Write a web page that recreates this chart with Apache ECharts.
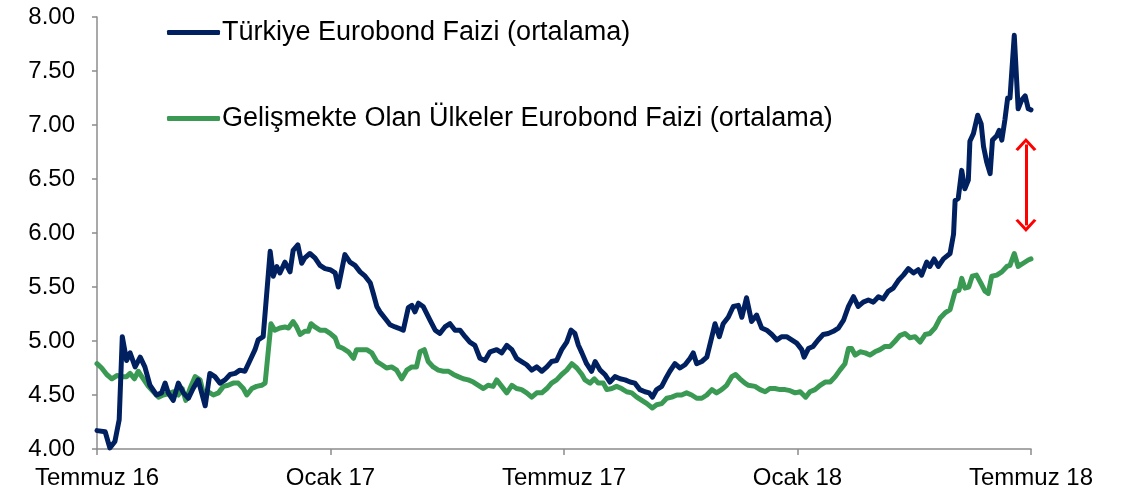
<!DOCTYPE html>
<html>
<head>
<meta charset="utf-8">
<title>Eurobond Faizleri</title>
<script type="text/javascript" src="https://cdn.jsdelivr.net/npm/echarts@6/dist/echarts.min.js"></script>
<style type="text/css">
html, body {margin: 0; padding: 0; background: #fff;}
#main {width: 1130px; height: 496px;}
</style>
</head>
<body>
<div id="main"></div>
<script type="text/javascript">
// x = ay (Temmuz 16 = 0), y = faiz (%)
var xTickLabels = ['Temmuz 16', 'Ocak 17', 'Temmuz 17', 'Ocak 18', 'Temmuz 18'];
var seriesNames = ['Türkiye Eurobond Faizi (ortalama)', 'Gelişmekte Olan Ülkeler Eurobond Faizi (ortalama)'];

var trMonths = [0.00,0.21,0.33,0.46,0.57,0.65,0.76,0.85,0.98,1.11,1.23,1.36,1.53,1.66,1.75,1.83,1.96,2.09,2.22,2.35,
    2.47,2.60,2.69,2.78,2.90,3.03,3.16,3.29,3.42,3.55,3.67,3.80,3.93,4.06,4.14,4.27,4.45,4.53,4.62,4.70,
    4.83,4.96,5.04,5.16,5.26,5.34,5.47,5.60,5.73,5.86,5.99,6.12,6.20,6.29,6.37,6.50,6.63,6.76,6.89,7.02,
    7.10,7.19,7.27,7.40,7.53,7.66,7.74,7.87,8.00,8.09,8.17,8.26,8.38,8.56,8.69,8.81,8.94,9.07,9.20,9.33,
    9.46,9.58,9.71,9.84,9.97,10.10,10.27,10.40,10.53,10.66,10.78,10.91,11.04,11.17,11.30,11.43,11.56,11.68,11.81,11.94,
    12.07,12.18,12.28,12.37,12.46,12.58,12.71,12.80,12.93,13.05,13.18,13.31,13.44,13.57,13.70,13.82,13.95,14.08,14.19,14.27,
    14.38,14.51,14.61,14.72,14.85,14.98,15.11,15.24,15.32,15.41,15.54,15.67,15.80,15.88,15.99,16.09,16.22,16.35,16.48,16.57,
    16.69,16.82,16.95,17.08,17.21,17.34,17.47,17.59,17.72,17.85,17.98,18.11,18.17,18.28,18.40,18.53,18.66,18.79,18.92,19.05,
    19.18,19.31,19.44,19.56,19.69,19.82,19.95,20.08,20.20,20.33,20.46,20.59,20.72,20.85,20.98,21.10,21.19,21.32,21.40,21.51,
    21.62,21.75,21.92,22.01,22.05,22.13,22.22,22.30,22.39,22.43,22.52,22.63,22.72,22.78,22.86,22.95,23.01,23.12,23.18,23.25,
    23.33,23.40,23.46,23.57,23.67,23.76,23.85,23.93,24.00];
var trYields = [4.17,4.16,4.01,4.07,4.27,5.04,4.82,4.89,4.76,4.85,4.76,4.59,4.50,4.52,4.61,4.52,4.45,4.61,4.52,4.47,
    4.56,4.64,4.52,4.40,4.70,4.67,4.61,4.64,4.69,4.70,4.73,4.72,4.82,4.92,5.01,5.04,5.83,5.60,5.69,5.63,
    5.73,5.64,5.84,5.89,5.72,5.77,5.81,5.77,5.70,5.67,5.66,5.63,5.50,5.66,5.80,5.73,5.70,5.64,5.60,5.54,
    5.44,5.32,5.27,5.21,5.15,5.13,5.12,5.10,5.31,5.33,5.27,5.35,5.32,5.19,5.10,5.07,5.13,5.16,5.10,5.10,
    5.04,4.99,4.96,4.84,4.82,4.90,4.92,4.89,4.96,4.92,4.84,4.81,4.78,4.73,4.76,4.72,4.76,4.81,4.82,4.92,
    4.99,5.10,5.07,4.96,4.89,4.79,4.72,4.81,4.73,4.69,4.62,4.67,4.65,4.64,4.62,4.61,4.55,4.53,4.52,4.48,
    4.55,4.58,4.65,4.72,4.79,4.75,4.78,4.84,4.89,4.79,4.81,4.85,5.04,5.16,5.04,5.16,5.22,5.32,5.33,5.22,
    5.40,5.18,5.24,5.12,5.10,5.06,5.01,5.04,5.04,5.01,4.98,4.92,4.85,4.93,4.95,5.01,5.06,5.07,5.09,5.12,
    5.19,5.32,5.41,5.32,5.36,5.38,5.36,5.41,5.39,5.46,5.49,5.56,5.61,5.67,5.63,5.66,5.61,5.73,5.69,5.76,
    5.69,5.76,5.81,5.99,6.30,6.32,6.58,6.41,6.49,6.85,6.92,7.09,7.01,6.80,6.66,6.55,6.86,6.90,6.95,6.86,
    7.05,7.25,7.25,7.83,7.15,7.23,7.27,7.15,7.14];

var emMonths = [0.00,0.12,0.25,0.38,0.51,0.63,0.76,0.85,0.96,1.06,1.19,1.32,1.45,1.58,1.70,1.83,1.96,2.09,2.19,2.28,
    2.39,2.52,2.65,2.73,2.86,2.99,3.12,3.25,3.37,3.50,3.63,3.76,3.85,3.98,4.10,4.23,4.32,4.47,4.57,4.70,
    4.83,4.92,5.04,5.13,5.22,5.34,5.43,5.50,5.60,5.73,5.86,5.99,6.12,6.20,6.33,6.46,6.59,6.67,6.80,6.93,
    7.06,7.19,7.32,7.44,7.57,7.70,7.83,7.96,8.09,8.21,8.30,8.41,8.51,8.64,8.77,8.90,9.03,9.16,9.28,9.41,
    9.54,9.67,9.80,9.93,10.05,10.18,10.27,10.40,10.53,10.66,10.78,10.91,11.04,11.17,11.30,11.43,11.56,11.68,11.81,11.94,
    12.07,12.20,12.33,12.46,12.54,12.67,12.78,12.88,13.01,13.10,13.23,13.35,13.48,13.61,13.74,13.87,14.00,14.13,14.27,14.38,
    14.51,14.64,14.77,14.90,15.02,15.15,15.28,15.41,15.54,15.67,15.80,15.92,16.05,16.18,16.31,16.41,16.52,16.65,16.74,16.91,
    17.04,17.17,17.29,17.42,17.55,17.68,17.81,17.94,18.07,18.21,18.32,18.45,18.58,18.71,18.84,18.97,19.09,19.22,19.31,19.39,
    19.48,19.61,19.74,19.86,19.99,20.12,20.25,20.38,20.51,20.63,20.76,20.89,21.02,21.15,21.28,21.40,21.53,21.66,21.79,21.92,
    22.05,22.15,22.22,22.30,22.40,22.49,22.60,22.72,22.82,22.90,22.99,23.12,23.25,23.38,23.46,23.57,23.67,23.80,23.93,24.00];
var emYields = [4.79,4.75,4.69,4.65,4.68,4.67,4.67,4.70,4.65,4.72,4.65,4.58,4.53,4.48,4.50,4.51,4.53,4.50,4.56,4.45,
    4.56,4.67,4.64,4.52,4.53,4.50,4.52,4.58,4.59,4.61,4.61,4.56,4.50,4.56,4.58,4.59,4.61,5.16,5.10,5.12,
    5.13,5.12,5.18,5.13,5.06,5.09,5.09,5.16,5.13,5.10,5.10,5.07,5.03,4.95,4.93,4.90,4.84,4.92,4.92,4.92,
    4.89,4.81,4.78,4.75,4.76,4.73,4.65,4.73,4.76,4.76,4.90,4.92,4.81,4.76,4.73,4.72,4.72,4.69,4.67,4.65,
    4.64,4.62,4.59,4.56,4.59,4.58,4.64,4.58,4.52,4.59,4.56,4.55,4.52,4.48,4.52,4.52,4.56,4.61,4.64,4.69,
    4.73,4.79,4.75,4.69,4.64,4.61,4.65,4.61,4.61,4.55,4.56,4.58,4.56,4.53,4.52,4.48,4.45,4.42,4.38,4.41,
    4.42,4.47,4.48,4.50,4.50,4.52,4.50,4.47,4.47,4.50,4.55,4.52,4.55,4.59,4.67,4.69,4.65,4.61,4.59,4.58,
    4.55,4.53,4.56,4.56,4.55,4.55,4.54,4.52,4.53,4.48,4.53,4.55,4.59,4.62,4.62,4.67,4.73,4.79,4.93,4.93,
    4.87,4.90,4.89,4.87,4.90,4.92,4.95,4.95,5.00,5.05,5.07,5.03,5.04,4.99,5.06,5.07,5.12,5.21,5.26,5.29,
    5.46,5.47,5.58,5.49,5.50,5.60,5.61,5.53,5.46,5.44,5.60,5.61,5.64,5.69,5.70,5.81,5.69,5.72,5.75,5.76];

// faiz farkını gösteren kırmızı çift yönlü ok (ay, faiz)
var spreadArrowX = 23.87;
var spreadArrowY = [6.82, 6.07];

function pairs(xs, ys) {
    return xs.map(function (x, i) { return [x, ys[i]]; });
}

var fontFamily = "'Liberation Sans', Arial, sans-serif";
var chevron = 'path://M0,11 L10,0 L20,11 L17.6,12.6 L10,4.2 L2.4,12.6 Z';

function legendFor(name, top) {
    return {
        data: [name],
        left: 167, top: top, padding: 0,
        icon: 'roundRect', itemWidth: 53, itemHeight: 5, itemGap: 0,
        textStyle: {fontSize: 27, color: '#000', fontFamily: fontFamily, padding: [0, 0, 0, -3]}
    };
}

var myChart = echarts.init(document.getElementById('main'));
var option = {
    animation: false,
    backgroundColor: '#fff',
    textStyle: {fontFamily: fontFamily},
    grid: {left: 97, right: 99, top: 17, bottom: 47},
    legend: [legendFor(seriesNames[0], 19), legendFor(seriesNames[1], 105)],
    xAxis: {
        type: 'value',
        min: 0, max: 24, interval: 6,
        axisLine: {lineStyle: {color: '#8c8c8c', width: 1.5}},
        axisTick: {show: true, length: 6, lineStyle: {color: '#8c8c8c', width: 1.5}},
        splitLine: {show: false},
        axisLabel: {
            fontSize: 24, color: '#000', margin: 17, fontFamily: fontFamily,
            showMinLabel: true, showMaxLabel: true,
            formatter: function (v) { return xTickLabels[Math.round(v / 6)]; }
        }
    },
    yAxis: {
        type: 'value',
        min: 4, max: 8, interval: 0.5,
        axisLine: {show: true, lineStyle: {color: '#8c8c8c', width: 1.5}},
        axisTick: {show: true, length: 5, lineStyle: {color: '#8c8c8c', width: 1.5}},
        splitLine: {show: false},
        axisLabel: {
            fontSize: 24, color: '#000', margin: 22, fontFamily: fontFamily,
            formatter: function (v) { return v.toFixed(2); }
        }
    },
    series: [
        {
            name: seriesNames[0],
            type: 'line',
            data: pairs(trMonths, trYields),
            showSymbol: false,
            color: '#002060',
            lineStyle: {width: 5, color: '#002060', cap: 'round', join: 'round'},
            z: 3,
            markLine: {
                silent: true,
                symbol: [chevron, chevron],
                symbolSize: [21, 13],
                label: {show: false},
                lineStyle: {color: '#ff0000', width: 3, type: 'solid'},
                data: [[
                    {coord: [spreadArrowX, spreadArrowY[0]]},
                    {coord: [spreadArrowX, spreadArrowY[1]]}
                ]]
            }
        },
        {
            name: seriesNames[1],
            type: 'line',
            data: pairs(emMonths, emYields),
            showSymbol: false,
            color: '#3a9a53',
            lineStyle: {width: 5, color: '#3a9a53', cap: 'round', join: 'round'},
            z: 2
        }
    ]
};
myChart.setOption(option);
</script>
</body>
</html>
